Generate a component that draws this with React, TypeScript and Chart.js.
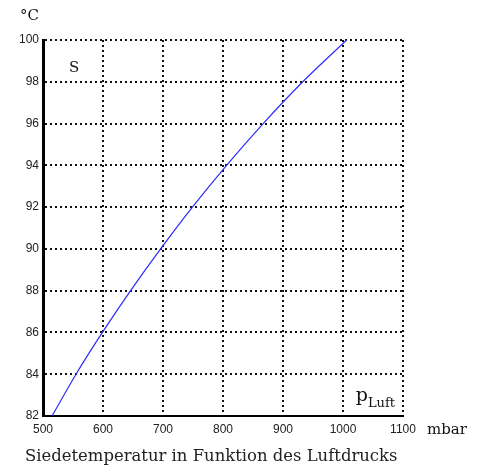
import React, { useEffect, useRef } from "react";
import { Chart, registerables } from "chart.js";

Chart.register(...registerables);

const pressure = [515, 555, 599, 646, 696, 749, 806, 867, 933, 1006];
const boilingTemp = [82, 84, 86, 88, 90, 92, 94, 96, 98, 100];
const xTicks = [500, 600, 700, 800, 900, 1000, 1100];
const yTicks = [82, 84, 86, 88, 90, 92, 94, 96, 98, 100];

const unitY = "°C";
const unitX = "mbar";
const seriesLabel = "S";
const axisLabel = "p";
const axisSub = "Luft";
const caption = "Siedetemperatur in Funktion des Luftdrucks";

const SERIF = "'DejaVu Serif', 'Liberation Serif', serif";
const NARROW = "'Liberation Sans Narrow', 'Liberation Sans', Arial, sans-serif";

const textPlugin = {
  id: "texts",
  afterDraw(chart: any) {
    const { ctx, chartArea } = chart;
    const { left, top, right, bottom } = chartArea;
    ctx.save();
    ctx.fillStyle = "#111";
    ctx.textBaseline = "alphabetic";
    ctx.textAlign = "left";
    ctx.font = `15px ${SERIF}`;
    ctx.fillText(unitY, left - 23, top - 20);
    ctx.fillText(seriesLabel, left + 26, top + 32);
    ctx.fillText(unitX, right + 24, bottom + 18);
    // p_Luft box
    ctx.font = `19px ${SERIF}`;
    const pw = ctx.measureText(axisLabel).width;
    ctx.font = `13px ${SERIF}`;
    const sw = ctx.measureText(axisSub).width;
    const bx = right - pw - sw - 8;
    ctx.fillStyle = "#fff";
    ctx.fillRect(bx - 3, bottom - 36, pw + sw + 10, 34);
    ctx.fillStyle = "#111";
    ctx.font = `19px ${SERIF}`;
    ctx.fillText(axisLabel, bx, bottom - 15);
    ctx.font = `13px ${SERIF}`;
    ctx.fillText(axisSub, bx + pw, bottom - 9);
    ctx.fillStyle = "#222";
    let fs = 16;
    ctx.font = `${fs}px ${SERIF}`;
    const w = ctx.measureText(caption).width;
    fs = (fs * 373) / w;
    ctx.font = `${fs.toFixed(2)}px ${SERIF}`;
    ctx.fillText(caption, left - 18, bottom + 45);
    ctx.restore();
  },
};

export default function App() {
  const ref = useRef<HTMLCanvasElement>(null);
  useEffect(() => {
    document.body.style.margin = "0";
    const chart = new Chart(ref.current!, {
      type: "line",
      data: {
        datasets: [
          {
            data: pressure.map((p, i) => ({ x: p, y: boilingTemp[i] })),
            borderColor: "#2b2bff",
            borderWidth: 1.2,
            pointRadius: 0,
            fill: false,
            cubicInterpolationMode: "monotone",
          },
        ],
      },
      options: {
        responsive: false,
        animation: false,
        layout: { padding: { top: 40, right: 76, left: 0, bottom: 0 } },
        plugins: { legend: { display: false }, tooltip: { enabled: false } },
        scales: {
          x: {
            type: "linear",
            min: 500,
            max: 1100,
            afterBuildTicks: (s: any) => {
              s.ticks = xTicks.map((v) => ({ value: v }));
            },
            afterFit: (s: any) => {
              s.height = 52;
            },
            ticks: {
              color: "#222",
              font: { family: NARROW, size: 12 },
              padding: 6,
              maxRotation: 0,
              autoSkip: false,
              callback: (v: any) => String(v),
            },
            grid: { color: "#111", lineWidth: 2, drawTicks: false },
            border: { display: true, color: "#000", width: 2, dash: [2, 3] },
          },
          y: {
            min: 82,
            max: 100,
            afterBuildTicks: (s: any) => {
              s.ticks = yTicks.map((v) => ({ value: v }));
            },
            afterFit: (s: any) => {
              s.width = 43;
            },
            ticks: {
              color: "#222",
              font: { family: NARROW, size: 12 },
              padding: 4,
              autoSkip: false,
              callback: (v: any) => String(v),
            },
            grid: { color: "#111", lineWidth: 2, drawTicks: false },
            border: { display: true, color: "#000", width: 3, dash: [2, 3] },
          },
        },
      },
      plugins: [textPlugin],
    });
    return () => chart.destroy();
  }, []);
  return <canvas ref={ref} width={479} height={468} style={{ display: "block" }} />;
}
